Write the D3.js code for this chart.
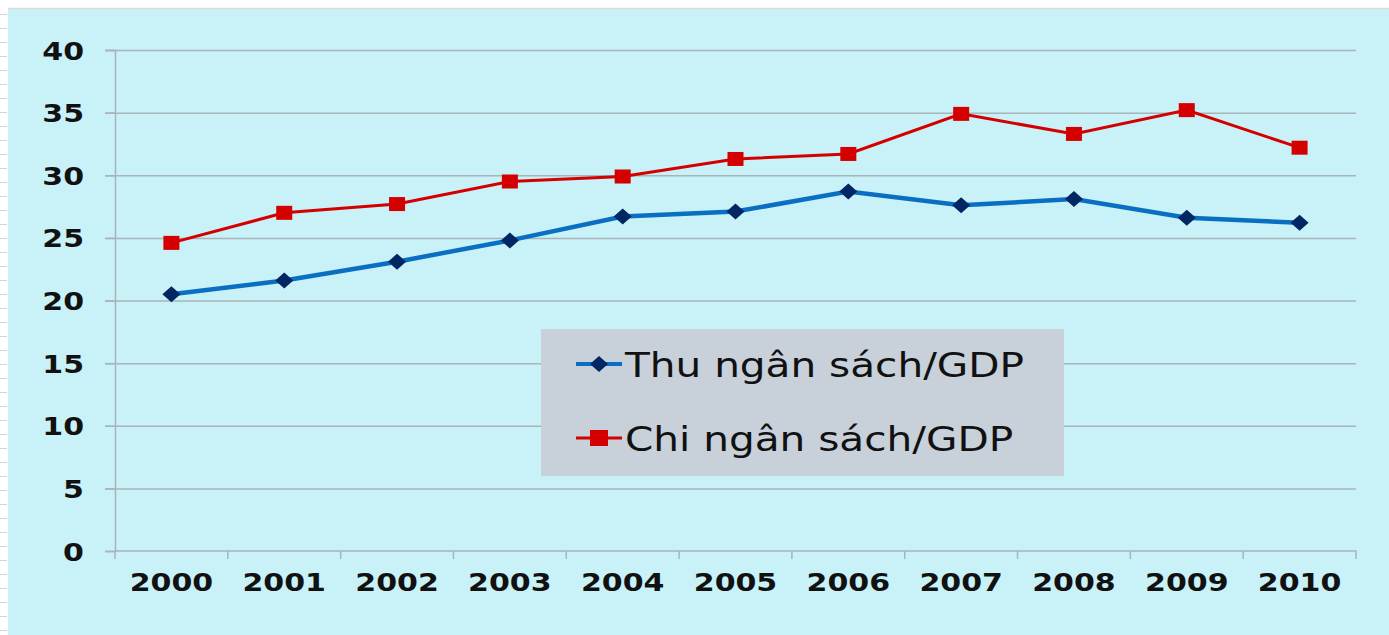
<!DOCTYPE html>
<html>
<head>
<meta charset="utf-8">
<script src="https://d3js.org/d3.v7.min.js"></script>
<style>
  body { margin: 0; background: #fff; }
  svg { display: block; }
</style>
</head>
<body>
<script>
// data
var years = ["2000","2001","2002","2003","2004","2005","2006","2007","2008","2009","2010"];
var thu = [20.5, 21.6, 23.1, 24.8, 26.7, 27.1, 28.7, 27.6, 28.1, 26.6, 26.2];
var chi = [24.6, 27.0, 27.7, 29.5, 29.9, 31.3, 31.7, 34.9, 33.3, 35.2, 32.2];
var yTicks = [0, 5, 10, 15, 20, 25, 30, 35, 40];
var seriesNames = ["Thu ngân sách/GDP", "Chi ngân sách/GDP"];

var W = 1389, H = 635;
var mLeft = 115, mRight = 1356, mTop = 50, mBottom = 551;
var stretch = 1.2; // the picture's text is drawn a bit wide

var svg = d3.select("body").append("svg")
  .attr("width", W).attr("height", H);

// background
svg.append("rect").attr("x", 8).attr("y", 8).attr("width", W - 8).attr("height", H - 8)
  .attr("fill", "#c8f1f8");
svg.append("line").attr("x1", 8).attr("x2", W).attr("y1", 8.5).attr("y2", 8.5)
  .attr("stroke", "#dcdcdc").attr("stroke-width", 1.5);
// little dashes on the left strip
d3.range(14, H, 14).forEach(function(yy){
  svg.append("line").attr("x1", 0).attr("x2", 7).attr("y1", yy + 0.5).attr("y2", yy + 0.5)
    .attr("stroke", "#d4d4d4").attr("stroke-width", 1);
});

var x = d3.scaleBand().domain(years).range([mLeft, mRight]);
var y = d3.scaleLinear().domain([0, 40]).range([mBottom, mTop]);

// grid
svg.append("g").selectAll("line").data(yTicks.slice(1)).enter().append("line")
  .attr("x1", mLeft - 10).attr("x2", mRight)
  .attr("y1", function(d){ return y(d) + 0.5; })
  .attr("y2", function(d){ return y(d) + 0.5; })
  .attr("stroke", "#a8b4b8").attr("stroke-width", 1.5);

// y axis
var yAxis = svg.append("g").attr("transform", "translate(" + mLeft + ",0)")
  .call(d3.axisLeft(y).tickValues(yTicks).tickSize(10).tickPadding(20));
yAxis.select(".domain").attr("stroke", "#a8b4b8").attr("stroke-width", 1.5);
yAxis.selectAll(".tick line").attr("stroke", "#a8b4b8").attr("stroke-width", 1.5);
yAxis.selectAll("text").attr("font-family", "DejaVu Sans").attr("font-weight", "bold")
  .attr("font-size", "25px").attr("dy", "0.36em").attr("fill", "#111")
  .attr("x", -31 / stretch).attr("transform", "scale(" + stretch + ",1)");

// x axis
var xAxis = svg.append("g").attr("transform", "translate(0," + mBottom + ")")
  .call(d3.axisBottom(x).tickSize(0).tickPadding(22));
xAxis.select(".domain").attr("stroke", "#a8b4b8").attr("stroke-width", 1.5)
  .attr("d", "M" + mLeft + ",8V0H" + mRight + "V8");
xAxis.selectAll("text").attr("font-family", "DejaVu Sans").attr("font-weight", "bold")
  .attr("font-size", "25px").attr("fill", "#111")
  .attr("transform", "scale(" + stretch + ",1)");
svg.append("g").selectAll("line").data(years.slice(1)).enter().append("line")
  .attr("x1", function(d){ return x(d); }).attr("x2", function(d){ return x(d); })
  .attr("y1", mBottom).attr("y2", mBottom + 8)
  .attr("stroke", "#a8b4b8").attr("stroke-width", 1.5);

var cx = function(d, i){ return x(years[i]) + x.bandwidth() / 2; };
var line = d3.line().x(cx).y(function(d){ return y(d); });

// red series
svg.append("path").datum(chi).attr("d", line)
  .attr("fill", "none").attr("stroke", "#d40000").attr("stroke-width", 3);
svg.append("g").selectAll("rect").data(chi).enter().append("rect")
  .attr("x", function(d, i){ return cx(d, i) - 8; })
  .attr("y", function(d){ return y(d) - 7; })
  .attr("width", 16).attr("height", 14).attr("fill", "#d40000");

// blue series
svg.append("path").datum(thu).attr("d", line)
  .attr("fill", "none").attr("stroke", "#0a6fc2").attr("stroke-width", 4.5);
svg.append("g").selectAll("path.dia").data(thu).enter().append("path")
  .attr("class", "dia")
  .attr("transform", function(d, i){ return "translate(" + cx(d, i) + "," + y(d) + ")"; })
  .attr("d", "M0,-8L9,0L0,8L-9,0Z").attr("fill", "#002664");

// legend
var lg = svg.append("g");
lg.append("rect").attr("x", 541).attr("y", 329).attr("width", 523).attr("height", 147)
  .attr("fill", "#c8d0da");
var ly = [364, 438];
var colors = ["#0a6fc2", "#d40000"];
seriesNames.forEach(function(name, i){
  lg.append("line").attr("x1", 576).attr("x2", 622).attr("y1", ly[i]).attr("y2", ly[i])
    .attr("stroke", colors[i]).attr("stroke-width", i === 0 ? 4 : 3);
  if (i === 0) {
    lg.append("path").attr("transform", "translate(599," + ly[i] + ")")
      .attr("d", "M0,-8L9,0L0,8L-9,0Z").attr("fill", "#002664");
  } else {
    lg.append("rect").attr("x", 590).attr("y", ly[i] - 8).attr("width", 18).attr("height", 16)
      .attr("fill", "#d40000");
  }
  lg.append("text")
    .attr("transform", "translate(625," + (ly[i] + 13) + ") scale(1.23,1)")
    .text(name)
    .attr("font-family", "DejaVu Sans").attr("font-size", "33px")
    .attr("fill", "#111");
});
</script>
</body>
</html>
